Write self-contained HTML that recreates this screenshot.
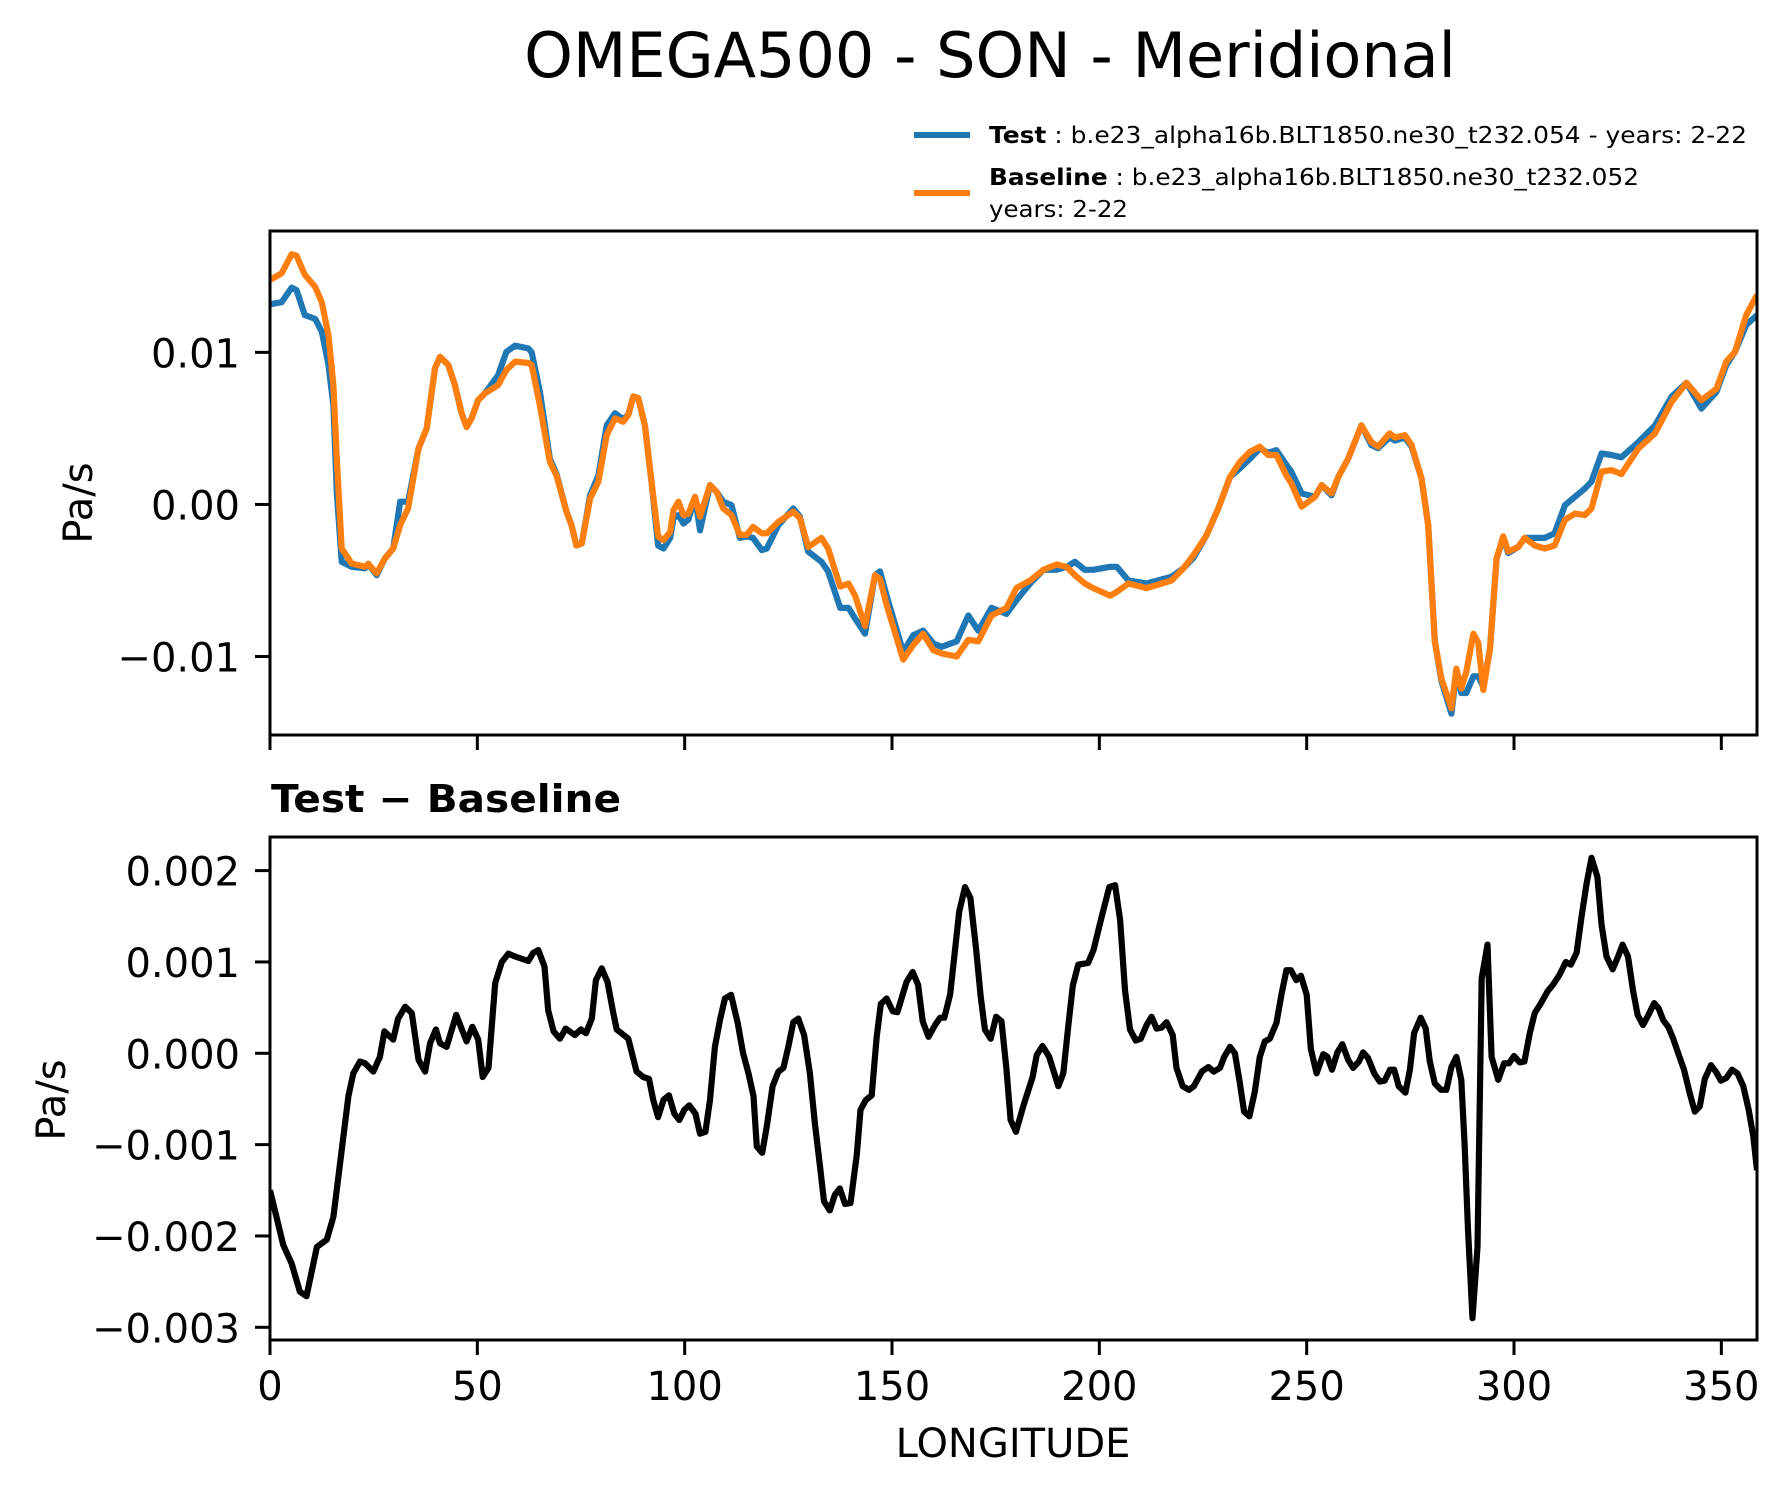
<!DOCTYPE html>
<html><head><meta charset="utf-8"><style>
html,body{margin:0;padding:0;background:#fff;}
svg{display:block;font-family:"DejaVu Sans","Liberation Sans",sans-serif;}
</style></head><body>
<svg id="fig" width="1791" height="1496" viewBox="0 0 1791 1496" xmlns="http://www.w3.org/2000/svg">
<rect width="1791" height="1496" fill="#fff"/>
<defs>
<clipPath id="clipTop"><rect x="270" y="231" width="1487" height="504"/></clipPath>
<clipPath id="clipBot"><rect x="270" y="837" width="1487" height="503"/></clipPath>
</defs>
<text x="990" y="77" font-size="62" text-anchor="middle" fill="#000">OMEGA500 - SON - Meridional</text>
<g>
<line x1="914" y1="135" x2="970" y2="135" stroke="#1f77b4" stroke-width="6"/>
<text x="989" y="143" font-size="23" textLength="758" lengthAdjust="spacingAndGlyphs"><tspan font-weight="bold">Test</tspan> : b.e23_alpha16b.BLT1850.ne30_t232.054 - years: 2-22</text>
<line x1="914" y1="193" x2="970" y2="193" stroke="#ff7f0e" stroke-width="6"/>
<text x="989" y="185" font-size="23" textLength="650" lengthAdjust="spacingAndGlyphs"><tspan font-weight="bold">Baseline</tspan> : b.e23_alpha16b.BLT1850.ne30_t232.052</text>
<text x="989" y="217" font-size="23" textLength="139" lengthAdjust="spacingAndGlyphs">years: 2-22</text>
</g>
<g id="top"></g>
<text x="271" y="812" font-size="38" font-weight="bold" textLength="350" lengthAdjust="spacingAndGlyphs">Test − Baseline</text>
<g id="bot"></g>
<text x="0" y="0" font-size="40" text-anchor="middle" transform="translate(92,503) rotate(-90)">Pa/s</text>
<text x="0" y="0" font-size="40" text-anchor="middle" transform="translate(65,1100) rotate(-90)">Pa/s</text>
<text x="1013" y="1457" font-size="40" text-anchor="middle">LONGITUDE</text>
</svg>
<script>
// ---- data ----
const topLon = [0,2.8,5.2,6.4,8.4,10.9,12.5,14.1,15.3,16.1,17.3,19.7,22.9,23.7,25.7,27.7,29.7,31.4,33.3,35.8,37.8,39.8,41,43,44.6,46.2,47.4,48.6,50.2,51.8,55,57,59.1,62.3,63.1,65.1,67.5,69.1,71.5,72.7,73.9,75.2,77.2,79.2,81.2,83.2,85.2,86.4,87.6,88.8,90.4,92,93.6,94.9,96.5,97.3,98.5,99.7,100.9,102.5,103.7,106.1,107.7,109.3,111.3,113.3,114.9,116.5,118.6,119.8,122.6,126.2,127.8,129.8,133,134.6,137.5,139.5,141.1,143.5,145.9,147.1,148.7,152.7,155.1,157.5,160,162,165.6,168.4,170.8,174,177.6,180,183.3,186.5,189.7,192.1,194.1,196.5,198.5,202.6,204.2,207,211.4,217.4,220.3,222.7,225.9,228.7,231.5,233.9,236.3,238.7,240.7,242.7,245.1,246.3,248.8,252,253.6,256,257.6,260,263.2,265.6,267.2,270,271.3,273.7,275.3,277.7,279.3,280.9,282.5,284.9,286.1,287.3,288.5,290.2,291.4,292.6,294.2,295.8,297.4,298.6,301,302.6,305,307.4,309.8,312.3,314.7,317.1,318.7,321.1,323.5,325.9,330,334,338,341.6,345.2,348.8,351.2,353.3,356,358.6];
// values in units of 0.01 Pa/s
const baselineVals = [1.476,1.52,1.645,1.636,1.51,1.43,1.33,1.11,0.785,0.30,-0.29,-0.388,-0.41,-0.39,-0.454,-0.355,-0.29,-0.136,-0.026,0.368,0.5,0.895,0.97,0.917,0.785,0.6,0.51,0.566,0.686,0.73,0.785,0.884,0.939,0.93,0.917,0.65,0.28,0.19,-0.048,-0.136,-0.27,-0.257,0.04,0.15,0.456,0.566,0.544,0.588,0.71,0.70,0.52,0.15,-0.21,-0.235,-0.18,-0.037,0.018,-0.07,-0.06,0.05,-0.08,0.127,0.083,-0.026,-0.07,-0.20,-0.20,-0.147,-0.19,-0.19,-0.114,-0.048,-0.09,-0.28,-0.22,-0.29,-0.54,-0.52,-0.60,-0.80,-0.465,-0.49,-0.66,-1.02,-0.925,-0.85,-0.96,-0.98,-1.0,-0.89,-0.90,-0.73,-0.68,-0.55,-0.50,-0.43,-0.395,-0.41,-0.465,-0.52,-0.55,-0.60,-0.575,-0.52,-0.55,-0.50,-0.42,-0.333,-0.20,-0.026,0.18,0.28,0.346,0.38,0.325,0.325,0.19,0.14,-0.015,0.05,0.127,0.072,0.18,0.30,0.52,0.41,0.38,0.467,0.44,0.456,0.39,0.171,-0.136,-0.90,-1.145,-1.34,-1.08,-1.21,-1.10,-0.85,-0.91,-1.22,-0.95,-0.355,-0.21,-0.31,-0.28,-0.22,-0.27,-0.29,-0.27,-0.10,-0.06,-0.07,-0.026,0.215,0.226,0.20,0.368,0.467,0.675,0.80,0.686,0.76,0.94,1.004,1.245,1.377];
const testVals = [1.316,1.33,1.425,1.41,1.245,1.22,1.136,0.917,0.65,0.08,-0.377,-0.41,-0.42,-0.39,-0.465,-0.355,-0.29,0.018,0.018,0.368,0.5,0.895,0.97,0.917,0.785,0.6,0.51,0.566,0.686,0.73,0.85,1.004,1.044,1.026,1.0,0.74,0.30,0.20,-0.048,-0.136,-0.27,-0.257,0.06,0.19,0.52,0.6,0.56,0.59,0.71,0.70,0.52,0.15,-0.27,-0.29,-0.22,-0.09,-0.07,-0.125,-0.10,0.05,-0.17,0.127,0.083,0.018,-0.004,-0.22,-0.21,-0.22,-0.30,-0.29,-0.136,-0.026,-0.08,-0.31,-0.377,-0.44,-0.68,-0.68,-0.75,-0.85,-0.465,-0.44,-0.60,-0.97,-0.86,-0.83,-0.915,-0.936,-0.90,-0.73,-0.83,-0.68,-0.72,-0.63,-0.52,-0.43,-0.43,-0.41,-0.377,-0.43,-0.43,-0.41,-0.41,-0.50,-0.52,-0.476,-0.42,-0.35,-0.20,-0.026,0.18,0.237,0.30,0.368,0.34,0.357,0.26,0.215,0.072,0.05,0.127,0.06,0.18,0.30,0.52,0.39,0.37,0.44,0.42,0.44,0.38,0.171,-0.136,-0.90,-1.16,-1.375,-1.10,-1.24,-1.24,-1.13,-1.13,-1.20,-0.95,-0.355,-0.22,-0.32,-0.28,-0.22,-0.22,-0.22,-0.19,-0.004,0.05,0.105,0.15,0.335,0.325,0.31,0.41,0.52,0.71,0.80,0.63,0.74,0.917,1.004,1.18,1.245];
const TOP_UNIT = 0.01;
const diffLon = [0,3.2,5.2,7.2,8.8,11.3,13.7,15.3,17.3,18.9,20.1,21.7,22.9,24.9,26.5,27.6,29.7,30.9,32.6,34.2,35.8,37.4,38.6,40,41,42.6,44.9,47.4,48.8,50.2,51.3,52.7,54.3,55.9,57.5,59.1,62.3,63.5,64.7,66.2,67.1,68.4,69.9,71.3,73.5,75,76.2,77.6,78.6,80,81.4,82.8,83.6,86.4,88.4,90,91.4,92.4,93.6,94.9,96.2,97.5,98.7,99.9,101.1,102.6,103.7,105,106.1,107.3,108.5,109.7,111.2,112.8,114.1,115.4,116.6,117.4,118.7,119.8,121.2,122.6,123.8,125,126.2,127.4,128.8,130.2,131.4,132.6,133.6,135,136.2,137.4,138.7,140,141.5,142.4,143.7,145.1,146.3,147.3,148.7,150.2,151.3,153.5,155,156.3,157.4,158.8,160.4,161.6,162.6,164,166.2,167.6,168.9,170.3,171.4,172.4,173.8,175.1,176.4,177.6,178.6,179.9,181.7,183.9,184.9,186.3,187.9,190.1,191.3,192.5,193.6,194.9,197.3,198.6,200.6,202.4,203.8,205,206.2,207.4,208.8,210,211.4,212.6,213.8,215,216.2,217.7,218.6,220.1,221.6,222.8,224.7,226.3,227.6,229.1,230.1,231.5,232.7,233.9,234.9,236.2,237.5,238.7,239.9,241.1,242.7,243.9,245.1,246.2,247.5,248.6,250,251,252.4,254,255,256.1,257.4,258.6,260,261.2,262.6,263.6,264.8,266.3,267.6,268.8,270.1,271.1,272.2,273.8,274.9,275.9,277.5,278.7,279.7,280.9,282.4,283.7,284.9,286.1,287.3,288.1,288.9,290,291.2,292.2,293.6,294.6,296.2,297.6,298.8,300,301.4,302.5,303.8,305,306.5,308.1,309.4,311,312.5,313.7,315.1,316.3,317.5,318.7,320.1,321.1,322.3,323.8,325.1,326.2,327.5,328.7,329.8,331.1,332.4,333.8,334.9,336,337.2,338.4,339.6,341,342.4,343.6,344.8,346,347.5,348.8,349.9,351.2,352.6,353.9,355.3,356.6,357.7,358.6];
// values in units of 0.001 Pa/s
const diffVals = [-1.50,-2.10,-2.30,-2.61,-2.66,-2.12,-2.04,-1.79,-1.06,-0.47,-0.22,-0.09,-0.11,-0.20,-0.04,0.24,0.15,0.38,0.51,0.44,-0.07,-0.20,0.11,0.26,0.11,0.07,0.42,0.13,0.29,0.15,-0.26,-0.16,0.77,1.00,1.09,1.06,1.01,1.10,1.13,0.95,0.47,0.24,0.16,0.27,0.20,0.26,0.22,0.38,0.80,0.93,0.78,0.44,0.26,0.16,-0.20,-0.26,-0.28,-0.51,-0.70,-0.51,-0.46,-0.66,-0.73,-0.62,-0.57,-0.66,-0.88,-0.86,-0.51,0.07,0.36,0.60,0.64,0.33,0.0,-0.22,-0.47,-1.02,-1.09,-0.80,-0.36,-0.20,-0.16,0.07,0.34,0.38,0.20,-0.22,-0.77,-1.22,-1.62,-1.72,-1.55,-1.48,-1.65,-1.64,-1.11,-0.62,-0.51,-0.46,0.18,0.54,0.60,0.46,0.45,0.78,0.89,0.75,0.35,0.18,0.31,0.39,0.39,0.64,1.55,1.82,1.70,1.13,0.62,0.26,0.16,0.40,0.35,-0.18,-0.73,-0.86,-0.57,-0.26,-0.02,0.08,-0.04,-0.36,-0.22,0.29,0.74,0.97,0.99,1.13,1.50,1.82,1.84,1.46,0.69,0.26,0.14,0.16,0.31,0.40,0.27,0.28,0.34,0.20,-0.16,-0.36,-0.40,-0.36,-0.20,-0.15,-0.20,-0.16,-0.04,0.07,0.0,-0.33,-0.64,-0.69,-0.42,-0.04,0.13,0.16,0.33,0.64,0.91,0.91,0.80,0.85,0.64,0.05,-0.22,-0.01,-0.04,-0.18,0.01,0.10,-0.07,-0.16,-0.09,0.01,-0.05,-0.22,-0.31,-0.30,-0.18,-0.18,-0.36,-0.43,-0.18,0.22,0.39,0.27,-0.09,-0.33,-0.40,-0.40,-0.15,-0.04,-0.29,-1.02,-1.93,-2.90,-2.12,0.82,1.19,-0.04,-0.29,-0.11,-0.11,-0.03,-0.10,-0.09,0.22,0.44,0.55,0.68,0.75,0.86,1.00,0.97,1.10,1.50,1.86,2.14,1.93,1.41,1.06,0.92,1.06,1.19,1.06,0.69,0.42,0.31,0.42,0.55,0.49,0.36,0.29,0.16,0.0,-0.18,-0.44,-0.64,-0.58,-0.28,-0.13,-0.21,-0.30,-0.27,-0.18,-0.22,-0.36,-0.62,-0.91,-1.28];
const DIFF_UNIT = 0.001;
const xTicks = [0,50,100,150,200,250,300,350];
const xTickLabels = ["0","50","100","150","200","250","300","350"];
const topYTicks = [0.01,0,-0.01];
const topYTickLabels = ["0.01","0.00","\u22120.01"];
const botYTicks = [0.002,0.001,0,-0.001,-0.002,-0.003];
const botYTickLabels = ["0.002","0.001","0.000","\u22120.001","\u22120.002","\u22120.003"];

// ---- axes ----
const NS = "http://www.w3.org/2000/svg";
const AX = {left:270, right:1757, xmin:0, xmax:358.6};
const TOP = {top:231, bottom:735, vmax:0.01798, vmin:-0.01516};
const BOT = {top:837, bottom:1340, vmax:0.002368, vmin:-0.003139};
function xScale(lon){ return AX.left + (lon-AX.xmin)/(AX.xmax-AX.xmin)*(AX.right-AX.left); }
function yScale(p, v){ return p.top + (p.vmax - v)/(p.vmax-p.vmin)*(p.bottom-p.top); }
function mk(tag, attrs, parent){
  const e = document.createElementNS(NS, tag);
  for (const k in attrs) e.setAttribute(k, attrs[k]);
  parent.appendChild(e); return e;
}
function linePath(p, lons, vals, unit){
  let d = "";
  for (let i=0;i<lons.length;i++){
    d += (i?"L":"M") + xScale(lons[i]).toFixed(1) + "," + yScale(p, vals[i]*unit).toFixed(1);
  }
  return d;
}
function drawAxes(g, p, yt, ytl, showXLabels, prefix){
  const frame = mk("rect", {x:AX.left, y:p.top, width:AX.right-AX.left, height:p.bottom-p.top, fill:"none", stroke:"#000", "stroke-width":3}, g);
  
  
  xTicks.forEach((t,i)=>{
    const x = xScale(t);
    const tk = mk("line", {x1:x, y1:p.bottom, x2:x, y2:p.bottom+15, stroke:"#000", "stroke-width":3}, g);
    
    
    if (showXLabels){
      const tl = mk("text", {x:x, y:1400, "font-size":40, "text-anchor":"middle"}, g);
      tl.textContent = xTickLabels[i];
      
      
    }
  });
  yt.forEach((t,i)=>{
    const y = yScale(p, t);
    const tk = mk("line", {x1:AX.left-15, y1:y, x2:AX.left, y2:y, stroke:"#000", "stroke-width":3}, g);
    
    
    const tl = mk("text", {x:240, y:y+15, "font-size":40, "text-anchor":"end"}, g);
    tl.textContent = ytl[i];
    
    
  });
}
const gTop = document.getElementById("top");
const gBot = document.getElementById("bot");
const testLine = mk("path", {d:linePath(TOP, topLon, testVals, TOP_UNIT), fill:"none", stroke:"#1f77b4", "stroke-width":6.2, "stroke-linejoin":"round", "clip-path":"url(#clipTop)"}, gTop);


const baseLine = mk("path", {d:linePath(TOP, topLon, baselineVals, TOP_UNIT), fill:"none", stroke:"#ff7f0e", "stroke-width":6.2, "stroke-linejoin":"round", "clip-path":"url(#clipTop)"}, gTop);


drawAxes(gTop, TOP, topYTicks, topYTickLabels, false, "top");
const diffLine = mk("path", {d:linePath(BOT, diffLon, diffVals, DIFF_UNIT), fill:"none", stroke:"#000", "stroke-width":6.2, "stroke-linejoin":"round", "clip-path":"url(#clipBot)"}, gBot);


drawAxes(gBot, BOT, botYTicks, botYTickLabels, true, "bottom");
</script>
</body></html>
